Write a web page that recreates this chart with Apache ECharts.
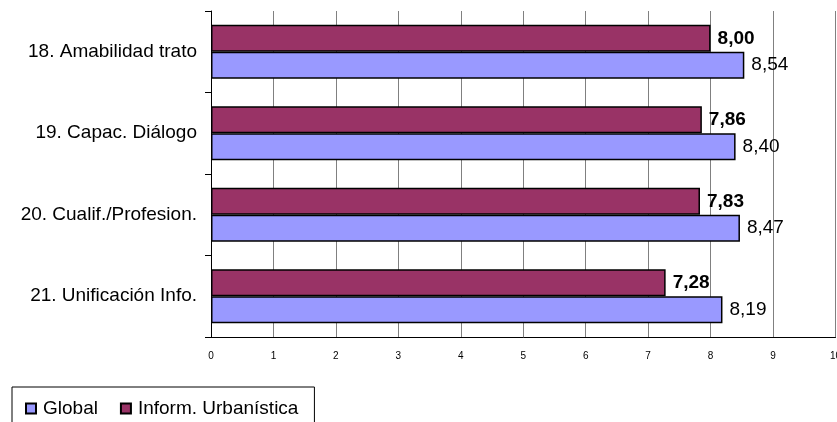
<!DOCTYPE html>
<html><head><meta charset="utf-8">
<script src="https://cdn.jsdelivr.net/npm/echarts@6/dist/echarts.min.js"></script>
<style>html,body{margin:0;padding:0;background:#fff}#c{width:837px;height:422px}</style>
</head><body><div id="c"></div>
<script>
const categories = ['18. Amabilidad trato', '19. Capac. Diálogo', '20. Cualif./Profesion.', '21. Unificación Info.'];
const globalValues = [8.54, 8.40, 8.47, 8.19];
const informValues = [8.00, 7.86, 7.83, 7.28];
const xTicks = [0,1,2,3,4,5,6,7,8,9,10];

const fmt = p => p.value.toFixed(2).replace('.', ',');
const chart = echarts.init(document.getElementById('c'));
chart.setOption({
  animation: false,
  textStyle: {fontFamily: 'Liberation Sans, Arial, sans-serif'},
  grid: {left: 211, right: 1.5, top: 11, bottom: 85, containLabel: false, outerBoundsMode: 'none'},
  xAxis: {
    type: 'value', min: 0, max: 10, interval: 1,
    axisLine: {show: true, lineStyle: {color: '#000', width: 1}},
    axisTick: {show: false},
    splitLine: {show: true, lineStyle: {color: '#808080', width: 1}},
    axisLabel: {color: '#000', fontSize: 10, margin: 14, formatter: v => String(xTicks[v])}
  },
  yAxis: {
    type: 'category', data: categories, inverse: true,
    axisLine: {show: true, lineStyle: {color: '#000', width: 1}},
    axisTick: {show: true, length: 6, lineStyle: {color: '#000'}},
    axisLabel: {color: '#000', fontSize: 19, margin: 14}
  },
  legend: {
    left: 12, top: 387,
    data: ['Global', 'Inform. Urbanística'],
    icon: 'rect', itemWidth: 10, itemHeight: 10, itemGap: 22,
    padding: [12, 16, 14, 13],
    borderColor: '#000', borderWidth: 1,
    textStyle: {color: '#000', fontSize: 19, padding: [0,0,0,2]}
  },
  series: [
    {
      name: 'Inform. Urbanística', type: 'bar', data: informValues,
      barGap: '0%', barCategoryGap: '34%',
      itemStyle: {color: '#993366', borderColor: '#000', borderWidth: 1.5},
      label: {show: true, position: 'right', distance: 7, color: '#000', fontSize: 19, fontWeight: 'bold', formatter: fmt}
    },
    {
      name: 'Global', type: 'bar', data: globalValues,
      barGap: '0%', barCategoryGap: '34%',
      itemStyle: {color: '#9999FF', borderColor: '#000', borderWidth: 1.5},
      label: {show: true, position: 'right', distance: 7, color: '#000', fontSize: 19, formatter: fmt}
    }
  ]
});
</script></body></html>
